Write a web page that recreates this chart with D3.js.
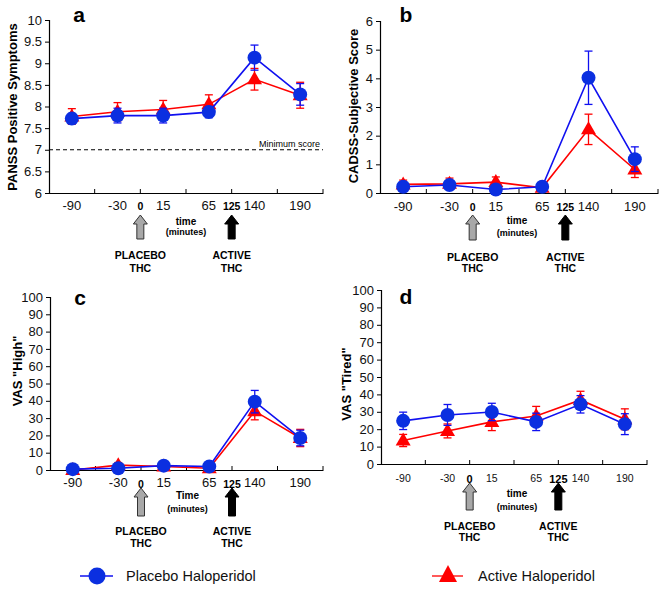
<!DOCTYPE html>
<html><head><meta charset="utf-8">
<script src="https://cdn.jsdelivr.net/npm/d3@7/dist/d3.min.js"></script>
<style>body{margin:0;background:#fff;} svg{display:block;font-family:"Liberation Sans",Arial,sans-serif;}</style>
</head><body>
<svg id="c" width="665" height="590"></svg>
<script>
// ---- data ----
const categories = ["-90", "-30", "15", "65", "140", "190"];
const boundaryLabels = [{i: 2, label: "0"}, {i: 4, label: "125"}];
const seriesNames = ["Placebo Haloperidol", "Active Haloperidol"];

const panssPlacebo = [7.72, 7.79, 7.79, 7.87, 9.13, 8.28];
const panssPlaceboErr = [0.12, 0.17, 0.17, 0.13, 0.29, 0.25];
const panssActive = [7.77, 7.88, 7.93, 8.05, 8.63, 8.26];
const panssActiveErr = [0.18, 0.21, 0.21, 0.22, 0.25, 0.30];
const panssTicks = [6, 6.5, 7, 7.5, 8, 8.5, 9, 9.5, 10];
const panssMinimum = 7;

const cadssPlacebo = [0.22, 0.28, 0.12, 0.22, 4.02, 1.18];
const cadssPlaceboErr = [0.12, 0.15, 0.1, 0.1, 0.93, 0.43];
const cadssActive = [0.30, 0.32, 0.38, 0.18, 2.22, 0.82];
const cadssActiveErr = [0.15, 0.2, 0.18, 0.12, 0.53, 0.28];
const cadssTicks = [0, 1, 2, 3, 4, 5, 6];

const highPlacebo = [0.5, 1, 2.5, 2, 39.5, 18.5];
const highPlaceboErr = [1, 1.5, 1.5, 1.5, 6.5, 4.5];
const highActive = [0, 2.8, 2, 1, 34, 18.5];
const highActiveErr = [1.5, 1.5, 1.5, 1.5, 5, 5];

const tiredPlacebo = [24.8, 28.2, 29.9, 24.2, 34.3, 22.9];
const tiredPlaceboErr = [5, 6, 5, 5, 5, 6];
const tiredActive = [13.5, 19, 24.2, 27.6, 36.8, 25.7];
const tiredActiveErr = [3.5, 4, 5, 5.5, 5, 6];
const vasTicks = [0, 10, 20, 30, 40, 50, 60, 70, 80, 90, 100];

// ---- drawing ----
const svg = d3.select("#c");
const BLUE = "#1010f0", BLUEFILL = "#0b2fe0", RED = "#ff0000";

function drawPanel(cfg) {
  const g = svg.append("g");
  const x = d3.scaleBand().domain(categories).range([cfg.x0, cfg.x1]).padding(0);
  const xb = d3.scaleLinear().domain([0, categories.length]).range([cfg.x0, cfg.x1]);
  const y = d3.scaleLinear().domain(cfg.domain).range([cfg.yb, cfg.yt]);

  // y axis
  const ya = g.append("g").attr("transform", `translate(${cfg.x0},0)`)
    .call(d3.axisLeft(y).tickValues(cfg.ticks).tickSize(4).tickPadding(3).tickFormat(d => String(d)));
  ya.select(".domain").attr("stroke", "#000").attr("stroke-width", 1.2);
  ya.selectAll(".tick line").attr("stroke", "#000");
  ya.selectAll("text").attr("font-size", 13).attr("fill", "#111")
    .attr("font-family", "Liberation Sans, Arial, sans-serif");

  // x axis
  const xa = g.append("g").attr("transform", `translate(0,${cfg.yb})`)
    .call(d3.axisBottom(x).tickSize(0).tickPadding(cfg.labPad).tickSizeOuter(0));
  xa.select(".domain").attr("stroke", "#000").attr("stroke-width", 1.2);
  xa.selectAll("text").attr("font-size", cfg.xfs).attr("fill", "#111")
    .attr("font-family", "Liberation Sans, Arial, sans-serif");
  g.append("g").selectAll("line").data(d3.range(1, categories.length + 1)).join("line")
    .attr("x1", d => xb(d)).attr("x2", d => xb(d))
    .attr("y1", cfg.yb).attr("y2", cfg.yb - 4).attr("stroke", "#000");

  // boundary labels 0 and 125
  g.append("g").selectAll("text").data(boundaryLabels).join("text")
    .attr("x", d => xb(d.i)).attr("y", cfg.yb + cfg.bOff)
    .attr("text-anchor", "middle").attr("font-weight", "bold").attr("font-size", cfg.bfs)
    .attr("fill", "#000").text(d => d.label);

  // arrows
  boundaryLabels.forEach((d, k) => {
    const cx = xb(d.i), top = cfg.yb + cfg.aTop, bot = cfg.yb + cfg.aBot;
    const hw = 7, sw = 3.5, hh = 9;
    const path = `M${cx},${top} L${cx + hw},${top + hh} L${cx + sw},${top + hh} L${cx + sw},${bot} L${cx - sw},${bot} L${cx - sw},${top + hh} L${cx - hw},${top + hh} Z`;
    g.append("path").attr("d", path)
      .attr("fill", k === 0 ? "#a8a8a8" : "#000").attr("stroke", k === 0 ? "#333" : "#000")
      .attr("stroke-width", 1);
    const labs = k === 0 ? ["PLACEBO", "THC"] : ["ACTIVE", "THC"];
    labs.forEach((t, j) => g.append("text").attr("x", cx).attr("y", cfg.yb + cfg.l1 + j * cfg.lgap)
      .attr("text-anchor", "middle").attr("font-weight", "bold").attr("font-size", 10.5).text(t));
  });

  // time label
  const tx = (xb(2) + xb(4)) / 2 + cfg.tdx;
  g.append("text").attr("x", tx).attr("y", cfg.yb + cfg.t1).attr("text-anchor", "middle")
    .attr("font-weight", "bold").attr("font-size", 10).text(cfg.timeLabel);
  g.append("text").attr("x", tx).attr("y", cfg.yb + cfg.t2).attr("text-anchor", "middle")
    .attr("font-weight", "bold").attr("font-size", 9).text("(minutes)");

  // y title
  g.append("text").attr("transform", `translate(${cfg.titleX},${cfg.titleY}) rotate(-90)`)
    .attr("text-anchor", "middle").attr("dominant-baseline", "central")
    .attr("font-weight", "bold").attr("font-size", 13).text(cfg.title);

  // panel letter
  g.append("text").attr("x", cfg.letterX).attr("y", cfg.letterY).attr("text-anchor", "middle")
    .attr("font-weight", "bold").attr("font-size", 21).text(cfg.letter);

  // minimum line
  if (cfg.minLine !== undefined) {
    g.append("line").attr("x1", cfg.x0).attr("x2", cfg.x1)
      .attr("y1", y(cfg.minLine)).attr("y2", y(cfg.minLine))
      .attr("stroke", "#000").attr("stroke-width", 1.2).attr("stroke-dasharray", "4,3");
    g.append("text").attr("x", cfg.x1 - 3).attr("y", y(cfg.minLine) - 3)
      .attr("text-anchor", "end").attr("font-size", 9).text("Minimum score");
  }

  const cx = i => x(categories[i]) + x.bandwidth() / 2;
  const line = d3.line().x((d, i) => cx(i)).y(d => y(d));

  function series(vals, errs, color, fill, shape) {
    const s = g.append("g");
    vals.forEach((v, i) => {
      const e = errs[i];
      s.append("line").attr("x1", cx(i)).attr("x2", cx(i)).attr("y1", y(v - e)).attr("y2", y(v + e))
        .attr("stroke", color).attr("stroke-width", 1.3);
      [v - e, v + e].forEach(w => s.append("line").attr("x1", cx(i) - 4).attr("x2", cx(i) + 4)
        .attr("y1", y(w)).attr("y2", y(w)).attr("stroke", color).attr("stroke-width", 1.3));
    });
    s.append("path").datum(vals).attr("d", line).attr("fill", "none").attr("stroke", color).attr("stroke-width", 1.6);
    vals.forEach((v, i) => {
      if (shape === "circle") {
        s.append("circle").attr("cx", cx(i)).attr("cy", y(v)).attr("r", 7).attr("fill", fill);
      } else {
        const px = cx(i), py = y(v);
        s.append("path").attr("d", `M${px},${py - 8} L${px + 7.5},${py + 5} L${px - 7.5},${py + 5} Z`).attr("fill", fill);
      }
    });
  }
  series(cfg.active, cfg.activeErr, RED, RED, "triangle");
  series(cfg.placebo, cfg.placeboErr, BLUE, BLUEFILL, "circle");
}

drawPanel({letter: "a", letterX: 79, letterY: 22, x0: 49, x1: 323, yt: 20, yb: 193,
  domain: [6, 10], ticks: panssTicks, title: "PANSS Positive Symptoms", titleX: 12, titleY: 107,
  placebo: panssPlacebo, placeboErr: panssPlaceboErr, active: panssActive, activeErr: panssActiveErr,
  minLine: panssMinimum, xfs: 13, labPad: 8, bOff: 17, bfs: 10.5, aTop: 22, aBot: 46,
  timeLabel: "time", tdx: 0, t1: 32, t2: 42, l1: 66, lgap: 13});

drawPanel({letter: "b", letterX: 406, letterY: 22, x0: 380, x1: 658, yt: 21, yb: 193,
  domain: [0, 6], ticks: cadssTicks, title: "CADSS-Subjective Score", titleX: 353, titleY: 106,
  placebo: cadssPlacebo, placeboErr: cadssPlaceboErr, active: cadssActive, activeErr: cadssActiveErr,
  xfs: 13, labPad: 9, bOff: 18, bfs: 10.5, aTop: 22, aBot: 47,
  timeLabel: "time", tdx: -2, t1: 31, t2: 43, l1: 68, lgap: 11});

drawPanel({letter: "c", letterX: 80, letterY: 305, x0: 50, x1: 323, yt: 297, yb: 470,
  domain: [0, 100], ticks: vasTicks, title: "VAS \"High\"", titleX: 17, titleY: 371,
  placebo: highPlacebo, placeboErr: highPlaceboErr, active: highActive, activeErr: highActiveErr,
  xfs: 13, labPad: 8, bOff: 18, bfs: 10.5, aTop: 18, aBot: 46,
  timeLabel: "Time", tdx: 1, t1: 29, t2: 42, l1: 65, lgap: 12});

drawPanel({letter: "d", letterX: 406, letterY: 304, x0: 381, x1: 647, yt: 290, yb: 464,
  domain: [0, 100], ticks: vasTicks, title: "VAS \"Tired\"", titleX: 346, titleY: 384,
  placebo: tiredPlacebo, placeboErr: tiredPlaceboErr, active: tiredActive, activeErr: tiredActiveErr,
  xfs: 10.5, labPad: 11, bOff: 19, bfs: 11, aTop: 19, aBot: 46,
  timeLabel: "time", tdx: 3, t1: 33, t2: 46, l1: 66, lgap: 11});

// legend
const leg = svg.append("g");
leg.append("line").attr("x1", 80).attr("x2", 113).attr("y1", 576).attr("y2", 576).attr("stroke", BLUE).attr("stroke-width", 1.3);
leg.append("circle").attr("cx", 97).attr("cy", 576).attr("r", 8.5).attr("fill", BLUEFILL);
leg.append("text").attr("x", 126).attr("y", 581).attr("font-size", 14.5).attr("fill", "#111").text(seriesNames[0]);
leg.append("line").attr("x1", 432).attr("x2", 463).attr("y1", 576).attr("y2", 576).attr("stroke", RED).attr("stroke-width", 1.3);
leg.append("path").attr("d", "M448,565 L457,582 L439,582 Z").attr("fill", RED);
leg.append("text").attr("x", 478).attr("y", 581).attr("font-size", 14.5).attr("fill", "#111").text(seriesNames[1]);
</script>
</body></html>
